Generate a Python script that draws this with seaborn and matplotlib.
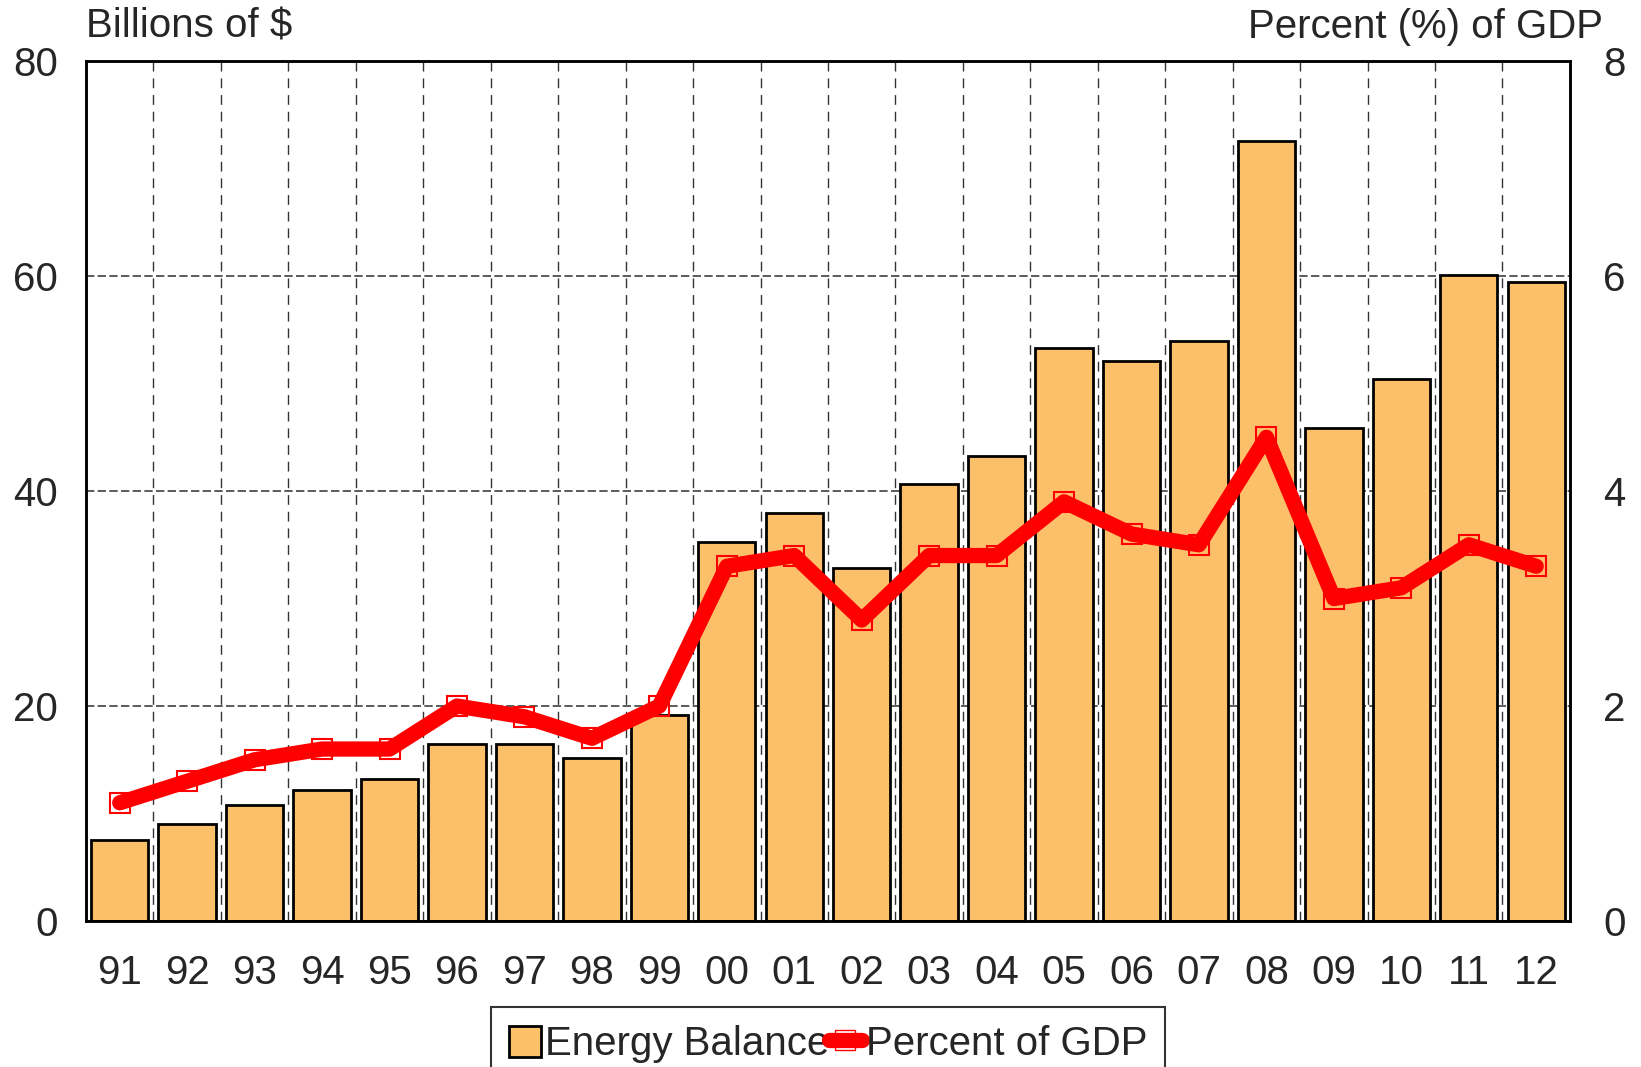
import numpy as np
import pandas as pd
import matplotlib
matplotlib.use("Agg")
import matplotlib.pyplot as plt
import seaborn as sns
from matplotlib.patches import Patch
from matplotlib.lines import Line2D

sns.set_style("white")
plt.rcParams['font.family'] = ['Liberation Sans', 'DejaVu Sans']

years = ["91", "92", "93", "94", "95", "96", "97", "98", "99", "00", "01",
         "02", "03", "04", "05", "06", "07", "08", "09", "10", "11", "12"]
energy_balance = [7.5, 9.0, 10.8, 12.2, 13.2, 16.5, 16.5, 15.2, 19.2, 35.3, 38.0,
                  32.8, 40.7, 43.3, 53.3, 52.1, 54.0, 72.6, 45.9, 50.4, 60.1, 59.4]
pct_gdp = [1.1, 1.3, 1.5, 1.6, 1.6, 2.0, 1.9, 1.7, 2.0, 3.3, 3.4,
           2.8, 3.4, 3.4, 3.9, 3.6, 3.5, 4.5, 3.0, 3.1, 3.5, 3.3]
left_ticks = [0, 20, 40, 60, 80]
right_ticks = [0, 2, 4, 6, 8]

df = pd.DataFrame({"year": years, "balance": energy_balance, "pct": pct_gdp})
df["pos"] = np.arange(len(df))

bar_color = "#FDC06A"
fs = 29

fig = plt.figure(figsize=(16.41, 10.67), dpi=100)
ax = fig.add_axes([0.0524, 0.1368, 0.9043, 0.806])

sns.barplot(data=df, x="year", y="balance", color=bar_color, saturation=1,
            edgecolor="black", linewidth=2.0, width=0.85, ax=ax)
ax.set_axisbelow(True)
ax.set_ylim(0, 80)
ax.set_xlim(-0.5, len(years) - 0.5)
ax.set_yticks(left_ticks)
ax.set_xlabel("")
ax.set_ylabel("")

# gridlines: dashed horizontals, dashed verticals between bars
ax.set_xticks(np.arange(len(years) - 1) + 0.5, minor=True)
ax.grid(axis="y", which="major", linestyle=(0, (5, 2)), color="#404040", linewidth=1.2)
ax.grid(axis="x", which="minor", linestyle=(0, (7, 5)), color="#333333", linewidth=1.0)
ax.tick_params(axis="both", which="both", length=0, labelsize=fs)
ax.tick_params(axis="y", pad=20)
ax.tick_params(axis="x", pad=24)
for s in ax.spines.values():
    s.set_linewidth(1.8)
    s.set_color("black")

ax2 = ax.twinx()
sns.lineplot(data=df, x="pos", y="pct", color="red", linewidth=11, sort=False,
             marker="s", markersize=15, markerfacecolor="none",
             markeredgecolor="red", markeredgewidth=1.5, ax=ax2)
ax2.set_ylim(0, 8)
ax2.set_yticks(right_ticks)
ax2.set_ylabel("")
ax2.tick_params(axis="y", length=0, labelsize=fs, pad=24)
for s in ax2.spines.values():
    s.set_linewidth(1.8)
    s.set_color("black")

fig.text(86 / 1641, 1 - 38 / 1067, "Billions of $", fontsize=fs, ha="left", va="baseline")
fig.text(1603 / 1641, 1 - 38 / 1067, "Percent (%) of GDP", fontsize=fs, ha="right", va="baseline")

handles = [Patch(facecolor=bar_color, edgecolor="black", linewidth=2.0),
           Line2D([0], [0], color="red", linewidth=11, marker="s", markersize=15,
                  markerfacecolor="none", markeredgecolor="red")]
leg = fig.legend(handles, ["Energy Balance", "Percent of GDP"], loc="upper center",
                 bbox_to_anchor=(828 / 1641, 1 - 1007 / 1067), ncol=2, fontsize=fs,
                 frameon=True, fancybox=False, edgecolor="black", handlelength=0.8,
                 handleheight=0.8, handletextpad=0.1, columnspacing=0.0,
                 borderpad=0.45, borderaxespad=0)
leg.get_frame().set_linewidth(1.5)

fig.savefig("out.png", dpi=100)
